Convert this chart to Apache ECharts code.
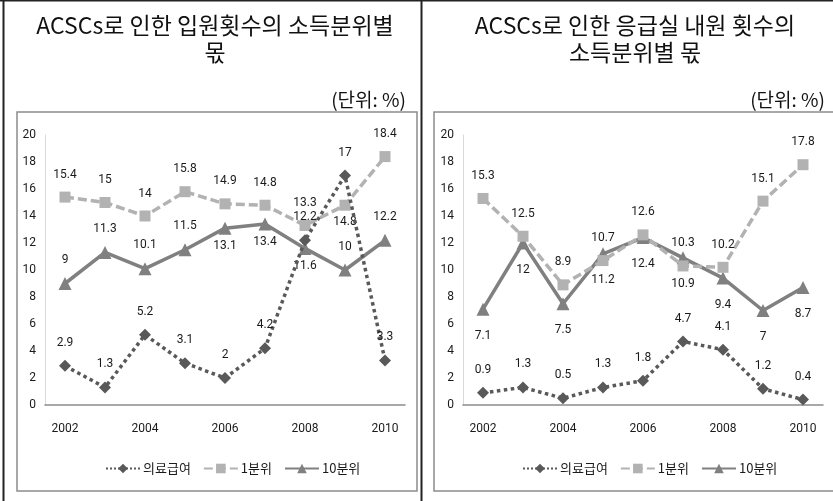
<!DOCTYPE html>
<html>
<head>
<meta charset="utf-8">
<style>
  html, body { margin: 0; padding: 0; background: #fff; }
  #chart { width: 833px; height: 501px; }
</style>
<script src="https://cdn.jsdelivr.net/npm/echarts@6/dist/echarts.min.js"></script>
</head>
<body>
<div id="chart"></div>
<script>
// Years on the category axis
const years = ['2002', '2003', '2004', '2005', '2006', '2007', '2008', '2009', '2010'];
const yTicks = [0, 2, 4, 6, 8, 10, 12, 14, 16, 18, 20];
const seriesNames = ['의료급여', '1분위', '10분위'];

// Admissions panel (%)
const admitMedicalAid = [2.9, 1.3, 5.2, 3.1, 2, 4.2, 12.2, 17, 3.3];
const admitQ1 = [15.4, 15, 14, 15.8, 14.9, 14.8, 13.3, 14.8, 18.4];
const admitQ10 = [9, 11.3, 10.1, 11.5, 13.1, 13.4, 11.6, 10, 12.2];

// Emergency room visits panel (%)
const erMedicalAid = [0.9, 1.3, 0.5, 1.3, 1.8, 4.7, 4.1, 1.2, 0.4];
const erQ1 = [15.3, 12.5, 8.9, 10.7, 12.6, 10.3, 10.2, 15.1, 17.8];
const erQ10 = [7.1, 12, 7.5, 11.2, 12.4, 10.9, 9.4, 7, 8.7];

// Label placement: indices whose value label sits under the marker
const admitQ1Below = [7];
const admitQ10Below = [4, 5, 6];

const NUM_FONT = 'Roboto, "Noto Sans", sans-serif';
const KR_FONT = '"Noto Sans CJK KR", "Noto Sans", sans-serif';

const styles = [
  { color: '#595959', type: 'dotted', symbol: 'diamond', size: 12 },
  { color: '#b2b2b2', type: [9, 4], symbol: 'rect', size: 11 },
  { color: '#808080', type: 'solid', symbol: 'triangle', size: 13 }
];

function labelled(values, belowIdx, topDist, bottomDist) {
  return values.map((v, i) => {
    const below = belowIdx.indexOf(i) >= 0;
    return {
      value: v,
      label: { position: below ? 'bottom' : 'top', distance: below ? bottomDist : topDist }
    };
  });
}

function makeSeries(k, axisIdx, data) {
  const s = styles[k];
  return {
    name: seriesNames[k],
    type: 'line',
    xAxisIndex: axisIdx,
    yAxisIndex: axisIdx,
    data: data,
    symbol: s.symbol,
    symbolSize: s.size,
    showAllSymbol: true,
    lineStyle: { color: s.color, width: 3.5, type: s.type },
    itemStyle: { color: s.color },
    label: {
      show: true,
      color: '#1a1a1a',
      fontFamily: NUM_FONT,
      fontSize: 12
    },
    emphasis: { disabled: true },
    animation: false,
    z: 3 - k
  };
}

function xAxis(gridIndex) {
  return {
    type: 'category',
    gridIndex: gridIndex,
    data: years,
    boundaryGap: true,
    axisLine: { lineStyle: { color: '#8c8c8c', width: 1.5 } },
    axisTick: { show: false },
    axisLabel: {
      interval: 1,
      color: '#1a1a1a',
      fontFamily: NUM_FONT,
      fontSize: 12,
      margin: 18
    }
  };
}

function yAxis(gridIndex) {
  return {
    type: 'value',
    gridIndex: gridIndex,
    min: yTicks[0],
    max: yTicks[yTicks.length - 1],
    interval: yTicks[1] - yTicks[0],
    axisLine: { show: true, lineStyle: { color: '#d9d9d9', width: 1 } },
    axisTick: { show: false },
    splitLine: { show: false },
    axisLabel: {
      color: '#1a1a1a',
      fontFamily: NUM_FONT,
      fontSize: 12,
      margin: 9
    }
  };
}

function legend(leftX) {
  return {
    data: seriesNames,
    left: leftX,
    top: 457,
    itemWidth: 34,
    itemHeight: 12,
    itemGap: 12,
    textStyle: { fontFamily: KR_FONT, fontSize: 13, color: '#1a1a1a', padding: [0, 0, 0, -2] },
    selectedMode: false
  };
}

function titleText(text, x, y, size, align) {
  return {
    text: text,
    left: x,
    top: y,
    textAlign: align,
    textStyle: {
      fontFamily: KR_FONT,
      fontWeight: 'normal',
      fontSize: size,
      lineHeight: 27,
      color: '#111'
    }
  };
}

const chart = echarts.init(document.getElementById('chart'), null, { renderer: 'canvas' });

chart.setOption({
  animation: false,
  title: [
    titleText('ACSCs로 인한 입원횟수의 소득분위별\n몫', 210, 7, 23, 'center'),
    titleText('ACSCs로 인한 응급실 내원 횟수의\n소득분위별 몫', 630, 7, 23, 'center'),
    titleText('(단위: %)', 401, 81, 19, 'right'),
    titleText('(단위: %)', 820, 81, 19, 'right')
  ],
  legend: [legend(100), legend(517)],
  grid: [
    { left: 45, right: 428, top: 135, bottom: 96 },
    { left: 463, right: 10, top: 135, bottom: 96 }
  ],
  xAxis: [xAxis(0), xAxis(1)],
  yAxis: [yAxis(0), yAxis(1)],
  series: [
    makeSeries(0, 0, labelled(admitMedicalAid, [], 11, 5)),
    makeSeries(1, 0, labelled(admitQ1, admitQ1Below, 11, 5)),
    makeSeries(2, 0, labelled(admitQ10, admitQ10Below, 11, 5)),
    makeSeries(0, 1, labelled(erMedicalAid, [], 11, 14)),
    makeSeries(1, 1, labelled(erQ1, [], 11, 14)),
    makeSeries(2, 1, labelled(erQ10, [0, 1, 2, 3, 4, 5, 6, 7, 8], 11, 14))
  ],
  graphic: [
    // outer page border and the divider between the two panels
    { type: 'line', shape: { x1: 0, y1: 0.5, x2: 833, y2: 0.5 }, style: { stroke: '#222', lineWidth: 2 }, silent: true },
    { type: 'line', shape: { x1: 3.5, y1: 0, x2: 3.5, y2: 501 }, style: { stroke: '#222', lineWidth: 2 }, silent: true },
    { type: 'line', shape: { x1: 421.5, y1: 0, x2: 421.5, y2: 501 }, style: { stroke: '#222', lineWidth: 2 }, silent: true },
    // chart frames
    { type: 'rect', shape: { x: 17, y: 112, width: 400, height: 379 }, style: { fill: 'none', stroke: '#8c8c8c', lineWidth: 1.5 }, silent: true, z: -1 },
    { type: 'rect', shape: { x: 434, y: 112, width: 420, height: 379 }, style: { fill: 'none', stroke: '#8c8c8c', lineWidth: 1.5 }, silent: true, z: -1 }
  ]
});
</script>
</body>
</html>
